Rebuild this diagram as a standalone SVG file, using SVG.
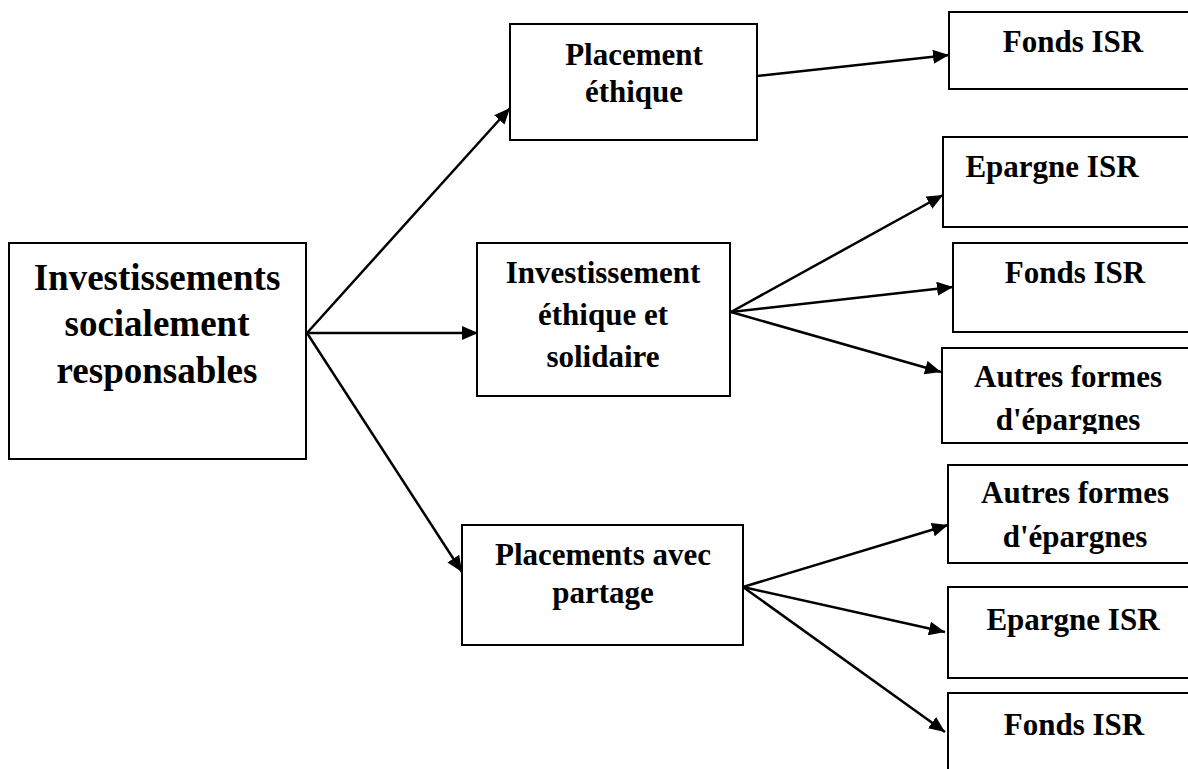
<svg xmlns="http://www.w3.org/2000/svg" width="1188" height="769" viewBox="0 0 1188 769">
<style>
.box{fill:#fff;stroke:#000;stroke-width:2}
.t{font-family:"Liberation Serif","Times New Roman",serif;font-weight:bold;font-size:31px;fill:#000;text-anchor:middle}
.big{font-size:37px}
.c{stroke:#000;stroke-width:2.5;fill:none;marker-end:url(#ah)}
</style>
<defs>
<marker id="ah" markerUnits="userSpaceOnUse" markerWidth="18" markerHeight="14" refX="16" refY="7" orient="auto">
<path d="M0,0 L16,7 L0,14 Z" fill="#000"/>
</marker>
<clipPath id="clipA"><rect x="942" y="348" width="260" height="86"/></clipPath>
</defs>
<rect width="1188" height="769" fill="#fff"/>
<g id="connectors">
<line class="c" x1="307" y1="333" x2="510" y2="108"/>
<line class="c" x1="307" y1="333" x2="478" y2="333"/>
<line class="c" x1="307" y1="333" x2="462" y2="572"/>
<line class="c" x1="757" y1="76" x2="949" y2="55"/>
<line class="c" x1="731" y1="312" x2="943" y2="195"/>
<line class="c" x1="731" y1="312" x2="953" y2="287"/>
<line class="c" x1="731" y1="312" x2="941" y2="372"/>
<line class="c" x1="743" y1="587" x2="948" y2="525"/>
<line class="c" x1="743" y1="587" x2="945" y2="632"/>
<line class="c" x1="743" y1="587" x2="945" y2="732"/>
</g>
<g id="n-root">
<rect class="box" x="9" y="243" width="297" height="216"/>
<text class="t big" x="157" y="290">Investissements</text>
<text class="t big" x="157" y="336">socialement</text>
<text class="t big" x="157" y="383">responsables</text>
</g>
<g id="n-placement">
<rect class="box" x="510" y="24" width="247" height="116"/>
<text class="t" x="634" y="65">Placement</text>
<text class="t" x="634" y="102">éthique</text>
</g>
<g id="n-invest">
<rect class="box" x="477" y="243" width="253" height="153"/>
<text class="t" x="603" y="283">Investissement</text>
<text class="t" x="603" y="325">éthique et</text>
<text class="t" x="603" y="367">solidaire</text>
</g>
<g id="n-partage">
<rect class="box" x="462" y="525" width="281" height="120"/>
<text class="t" x="603" y="565">Placements avec</text>
<text class="t" x="603" y="603">partage</text>
</g>
<g id="n-fonds1">
<rect class="box" x="949" y="12" width="260" height="77"/>
<text class="t" x="1073" y="52">Fonds ISR</text>
</g>
<g id="n-epargne1">
<rect class="box" x="943" y="137" width="260" height="90"/>
<text class="t" x="1052" y="177">Epargne ISR</text>
</g>
<g id="n-fonds2">
<rect class="box" x="953" y="243" width="260" height="89"/>
<text class="t" x="1075" y="283">Fonds ISR</text>
</g>
<g id="n-autres1">
<rect class="box" x="942" y="348" width="260" height="95"/>
<g clip-path="url(#clipA)">
<text class="t" x="1068" y="387">Autres formes</text>
<text class="t" x="1068" y="430">d'épargnes</text>
</g>
</g>
<g id="n-autres2">
<rect class="box" x="948" y="465" width="260" height="98"/>
<text class="t" x="1075" y="503">Autres formes</text>
<text class="t" x="1075" y="547">d'épargnes</text>
</g>
<g id="n-epargne2">
<rect class="box" x="948" y="587" width="260" height="91"/>
<text class="t" x="1073" y="630">Epargne ISR</text>
</g>
<g id="n-fonds3">
<rect class="box" x="948" y="693" width="260" height="100"/>
<text class="t" x="1074" y="735">Fonds ISR</text>
</g>
</svg>
